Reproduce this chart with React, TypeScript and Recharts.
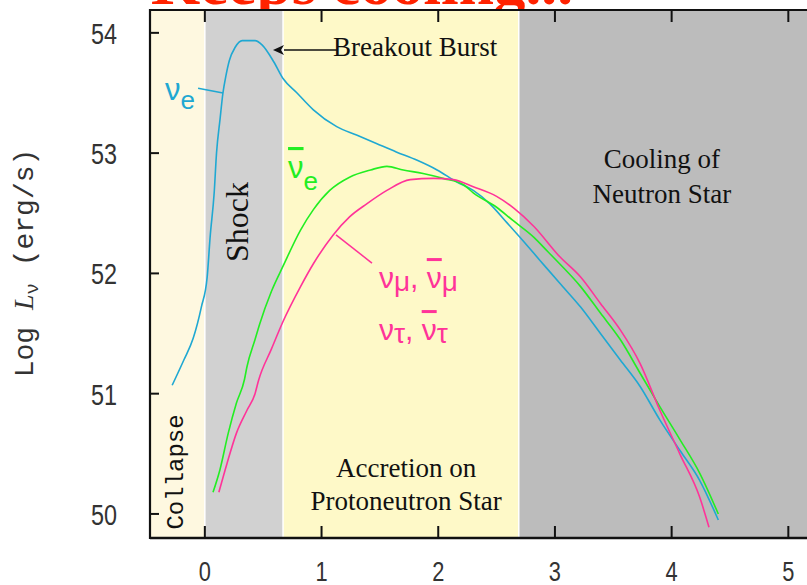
import React from 'react';
import {
  LineChart,
  Line,
  XAxis,
  YAxis,
  ReferenceArea,
  ReferenceLine,
  ReferenceDot,
  Label,
} from 'recharts';

// ---- axes ----
const xTicks = [0, 1, 2, 3, 4, 5];
const yTicks = [50, 51, 52, 53, 54];
const xDomain: [number, number] = [-0.47, 5.16];
const yDomain: [number, number] = [49.8, 54.19];

// ---- phase boundaries (time, s) ----
const phaseNames = ['Collapse', 'Shock', 'Accretion', 'Cooling'];
const phaseStart = [-0.47, 0, 0.67, 2.69];
const phaseEnd = [0, 0.67, 2.69, 5.16];

// ---- nu_e ----
const nueT = [-0.28, -0.18, -0.1, -0.03, 0.02, 0.045, 0.08, 0.1, 0.13, 0.155, 0.18, 0.21, 0.26, 0.32, 0.43, 0.49, 0.59, 0.67, 0.79, 0.93, 1.13, 1.3, 1.47, 1.64, 1.82, 1.99, 2.16, 2.3, 2.44, 2.59, 2.7, 2.87, 3.04, 3.22, 3.39, 3.56, 3.73, 3.9, 4.07, 4.24, 4.4];
const nueL = [51.07, 51.28, 51.46, 51.72, 51.97, 52.3, 52.67, 53.0, 53.28, 53.5, 53.64, 53.77, 53.88, 53.935, 53.935, 53.9, 53.76, 53.62, 53.5, 53.36, 53.22, 53.15, 53.08, 53.01, 52.94, 52.86, 52.76, 52.69, 52.58, 52.42, 52.3, 52.11, 51.92, 51.72, 51.5, 51.28, 51.06, 50.78, 50.53, 50.28, 49.95];

// ---- anti nu_e ----
const nuebT = [0.07, 0.13, 0.2, 0.27, 0.34, 0.36, 0.43, 0.47, 0.57, 0.67, 0.82, 0.93, 1.07, 1.24, 1.42, 1.56, 1.7, 1.87, 2.04, 2.22, 2.3, 2.5, 2.64, 2.82, 2.94, 3.04, 3.22, 3.39, 3.56, 3.73, 3.9, 4.07, 4.24, 4.4];
const nuebL = [50.18, 50.37, 50.67, 50.92, 51.12, 51.22, 51.45, 51.58, 51.85, 52.06, 52.36, 52.53, 52.69, 52.8, 52.86, 52.89, 52.86, 52.83, 52.79, 52.735, 52.67, 52.55, 52.44, 52.3, 52.18, 52.08, 51.89, 51.67, 51.45, 51.17, 50.89, 50.62, 50.34, 50.0];

// ---- nu_mu, nu_tau ----
const numuT = [0.12, 0.19, 0.27, 0.36, 0.43, 0.46, 0.57, 0.67, 0.82, 0.93, 1.1, 1.24, 1.39, 1.56, 1.76, 1.96, 2.13, 2.3, 2.5, 2.65, 2.82, 3.04, 3.22, 3.39, 3.56, 3.73, 3.9, 4.07, 4.24, 4.32];
const numuL = [50.18, 50.42, 50.67, 50.86, 51.0, 51.11, 51.37, 51.6, 51.89, 52.08, 52.32, 52.47, 52.58, 52.69, 52.78, 52.79, 52.78, 52.72, 52.64, 52.54, 52.39, 52.14, 51.97, 51.75, 51.53, 51.25, 50.86, 50.5, 50.14, 49.89];

const toData = (t: number[], l: number[]) => t.map((tv, i) => ({ t: tv, v: l[i] }));
const nueData = toData(nueT, nueL);
const nuebData = toData(nuebT, nuebL);
const numuData = toData(numuT, numuL);

// ---- layout / styles ----
const W = 807;
const H = 585;
const M = { top: 10, right: 0, bottom: 0, left: 0 };
const yAxisW = 150;
const xAxisH = 47;
const plotW = W - M.left - M.right - yAxisW;
const plotH = H - M.top - M.bottom - xAxisH;

const phaseFill = ['#FEF8E0', '#D1D1D1', '#FEF9C8', '#BCBCBC'];
const blue = '#1FA8D2';
const green = '#22EE22';
const pink = '#FF3399';
const tickFont = "'Liberation Sans', 'DejaVu Sans', sans-serif";
const serif = "'Liberation Serif', 'DejaVu Serif', serif";
const sans = "'Liberation Sans', 'DejaVu Sans', sans-serif";
const mono = "'Liberation Mono', 'DejaVu Sans Mono', monospace";
const ink = '#111111';

const BottomTick = (props: any) => {
  const { x, y, payload } = props;
  return (
    <g>
      <text
        transform={`translate(${x} ${y + 43}) scale(0.78 1)`}
        x={0}
        y={0}
        textAnchor="middle"
        fontSize={28}
        fontFamily={tickFont}
        fill="#333"
      >
        {payload.value}
      </text>
    </g>
  );
};

const LeftTick = (props: any) => {
  const { x, y, payload } = props;
  return (
    <g>
      <text
        transform={`translate(${x - 33} ${y + 11}) scale(0.78 1)`}
        x={0}
        y={0}
        textAnchor="end"
        fontSize={30}
        fontFamily={tickFont}
        fill="#333"
      >
        {payload.value}
      </text>
    </g>
  );
};

const YLabel = (props: any) => {
  const vb = props.viewBox || {};
  const cx = vb.x + 33;
  const cy = vb.y + vb.height / 2 - 11;
  return (
    <text
      x={cx}
      y={cy}
      transform={`rotate(-90 ${cx} ${cy})`}
      textAnchor="middle"
      fontSize={28}
      fontFamily={mono}
      fill="#333"
    >
      <tspan>Log </tspan>
      <tspan fontStyle="italic" fontFamily={serif}>L</tspan>
      <tspan fontSize={19} dy={5}>ν</tspan>
      <tspan dy={-5}> (erg/s)</tspan>
    </text>
  );
};

const ArrowShape = (props: any) => {
  const { x1, y1, x2, y2 } = props;
  const ang = Math.atan2(y2 - y1, x2 - x1);
  const L = 11;
  const Wd = 5;
  const bx = x2 - L * Math.cos(ang);
  const by = y2 - L * Math.sin(ang);
  const px = -Math.sin(ang) * Wd;
  const py = Math.cos(ang) * Wd;
  return (
    <g>
      <line x1={x1} y1={y1} x2={bx} y2={by} stroke={ink} strokeWidth={1.5} />
      <polygon
        points={`${x2},${y2} ${bx + px},${by + py} ${bx + 3 * Math.cos(ang)},${by + 3 * Math.sin(ang)} ${bx - px},${by - py}`}
        fill={ink}
      />
    </g>
  );
};

const textShape = (render: (cx: number, cy: number) => React.ReactElement) => (p: any) => render(p.cx, p.cy);

const App = () => {
  return (
    <div style={{ position: 'absolute', left: 0, top: 0, width: W, height: H, background: '#fff' }}>
      <LineChart width={W} height={H} margin={M}>
        {phaseNames.map((n, i) => (
          <ReferenceArea
            key={n}
            xAxisId="b"
            x1={phaseStart[i]}
            x2={phaseEnd[i]}
            y1={yDomain[0]}
            y2={yDomain[1]}
            fill={phaseFill[i]}
            fillOpacity={1}
            stroke="none"
            ifOverflow="visible"
          />
        ))}
        {phaseStart.slice(1).map((v) => (
          <ReferenceLine key={'sep' + v} xAxisId="b" x={v} stroke="#ffffff" strokeWidth={1.5} ifOverflow="visible" />
        ))}

        <XAxis
          xAxisId="b"
          type="number"
          dataKey="t"
          domain={xDomain}
          ticks={xTicks}
          interval={0}
          allowDataOverflow
          height={xAxisH}
          tickLine={false}
          tickSize={0}
          tickMargin={0}
          axisLine={{ stroke: ink, strokeWidth: 2.5 }}
          tick={<BottomTick />}
        />
        <YAxis
          type="number"
          domain={yDomain}
          ticks={yTicks}
          interval={0}
          allowDataOverflow
          width={yAxisW}
          tickLine={false}
          tickSize={0}
          tickMargin={0}
          axisLine={{ stroke: ink, strokeWidth: 2 }}
          tick={<LeftTick />}
        >
          <Label content={<YLabel />} />
        </YAxis>

        {/* leader lines and arrow */}
        <ReferenceLine
          xAxisId="b"
          segment={[{ x: -0.058, y: 53.54 }, { x: 0.156, y: 53.5 }]}
          stroke={blue}
          strokeWidth={1.5}
          ifOverflow="visible"
        />
        <ReferenceLine
          xAxisId="b"
          segment={[{ x: 1.124, y: 52.32 }, { x: 1.432, y: 52.086 }]}
          stroke={pink}
          strokeWidth={1.5}
          ifOverflow="visible"
        />
        <ReferenceLine
          xAxisId="b"
          segment={[{ x: 1.132, y: 53.857 }, { x: 0.584, y: 53.857 }]}
          shape={<ArrowShape />}
          ifOverflow="visible"
        />

        <Line xAxisId="b" data={nueData} dataKey="v" type="monotone" stroke={blue} strokeWidth={1.6} dot={false} isAnimationActive={false} />
        <Line xAxisId="b" data={nuebData} dataKey="v" type="monotone" stroke={green} strokeWidth={1.6} dot={false} isAnimationActive={false} />
        <Line xAxisId="b" data={numuData} dataKey="v" type="monotone" stroke={pink} strokeWidth={1.6} dot={false} isAnimationActive={false} />

        {/* frame (anchored at the top-left corner of the plot) */}
        <ReferenceDot
          xAxisId="b"
          x={xDomain[0]}
          y={yDomain[1]}
          r={0}
          ifOverflow="visible"
          shape={textShape((cx, cy) => (
            <path
              d={`M ${cx + plotW} ${cy} H ${cx} V ${cy + plotH} H ${cx + plotW}`}
              fill="none"
              stroke={ink}
              strokeWidth={2.2}
            />
          ))}
        />
        {/* inward tick marks */}
        {xTicks.map((v) => (
          <ReferenceDot
            key={'bt' + v}
            xAxisId="b"
            x={v}
            y={yDomain[0]}
            r={0}
            ifOverflow="visible"
            shape={textShape((cx, cy) => (
              <line x1={cx} y1={cy} x2={cx} y2={cy - 12} stroke={ink} strokeWidth={2} />
            ))}
          />
        ))}
        {xTicks.map((v) => (
          <ReferenceDot
            key={'tt' + v}
            xAxisId="b"
            x={v}
            y={yDomain[1]}
            r={0}
            ifOverflow="visible"
            shape={textShape((cx, cy) => (
              <line x1={cx} y1={cy} x2={cx} y2={cy + 12} stroke={ink} strokeWidth={2} />
            ))}
          />
        ))}
        {yTicks.map((v) => (
          <ReferenceDot
            key={'lt' + v}
            xAxisId="b"
            x={xDomain[0]}
            y={v}
            r={0}
            ifOverflow="visible"
            shape={textShape((cx, cy) => (
              <line x1={cx} y1={cy} x2={cx + 9} y2={cy} stroke={ink} strokeWidth={2} />
            ))}
          />
        ))}

        {/* phase labels */}
        <ReferenceDot
          xAxisId="b"
          x={-0.186}
          y={50.349}
          r={0}
          shape={textShape((cx, cy) => (
            <text x={cx} y={cy} transform={`rotate(-90 ${cx} ${cy})`} textAnchor="middle" fontSize={24} fontFamily={mono} fill={ink}>
              Collapse
            </text>
          ))}
        />
        <ReferenceDot
          xAxisId="b"
          x={0.37}
          y={52.427}
          r={0}
          shape={textShape((cx, cy) => (
            <text x={cx} y={cy} transform={`rotate(-90 ${cx} ${cy})`} textAnchor="middle" fontSize={32} fontFamily={serif} fill={ink}>
              Shock
            </text>
          ))}
        />
        <ReferenceDot
          xAxisId="b"
          x={1.725}
          y={50.307}
          r={0}
          shape={textShape((cx, cy) => (
            <text x={cx} y={cy} textAnchor="middle" fontSize={27} fontFamily={serif} fill={ink}>
              <tspan x={cx}>Accretion on</tspan>
              <tspan x={cx} dy={33}>Protoneutron Star</tspan>
            </text>
          ))}
        />
        <ReferenceDot
          xAxisId="b"
          x={3.917}
          y={52.876}
          r={0}
          shape={textShape((cx, cy) => (
            <text x={cx} y={cy} textAnchor="middle" fontSize={27} fontFamily={serif} fill={ink}>
              <tspan x={cx}>Cooling of</tspan>
              <tspan x={cx} dy={35}>Neutron Star</tspan>
            </text>
          ))}
        />
        <ReferenceDot
          xAxisId="b"
          x={1.098}
          y={53.808}
          r={0}
          shape={textShape((cx, cy) => (
            <text x={cx} y={cy} textAnchor="start" fontSize={27} fontFamily={serif} fill={ink}>
              Breakout Burst
            </text>
          ))}
        />

        {/* flavour labels */}
        <ReferenceDot
          xAxisId="b"
          x={-0.341}
          y={53.442}
          r={0}
          shape={textShape((cx, cy) => (
            <text x={cx} y={cy} fontSize={31} fontFamily={sans} fill={blue}>
              <tspan>ν</tspan>
              <tspan fontSize={26} dy={9}>e</tspan>
            </text>
          ))}
        />
        <ReferenceDot
          xAxisId="b"
          x={0.713}
          y={52.793}
          r={0}
          shape={textShape((cx, cy) => (
            <text x={cx} y={cy} fontSize={31} fontFamily={sans} fill={green}>
              <tspan style={{ textDecoration: 'overline' }}>ν</tspan>
              <tspan fontSize={26} dy={12}>e</tspan>
            </text>
          ))}
        />
        <ReferenceDot
          xAxisId="b"
          x={1.492}
          y={51.878}
          r={0}
          shape={textShape((cx, cy) => (
            <text x={cx} y={cy} fontSize={30} fontFamily={sans} fill={pink}>
              <tspan>ν</tspan>
              <tspan fontSize={28} dy={3}>μ</tspan>
              <tspan dy={-3}>, </tspan>
              <tspan style={{ textDecoration: 'overline' }}>ν</tspan>
              <tspan fontSize={28} dy={3}>μ</tspan>
              <tspan x={cx} dy={49}>ν</tspan>
              <tspan fontSize={28} dy={3}>τ</tspan>
              <tspan dy={-3}>, </tspan>
              <tspan style={{ textDecoration: 'overline' }}>ν</tspan>
              <tspan fontSize={28} dy={3}>τ</tspan>
            </text>
          ))}
        />
      </LineChart>
      <svg width={W} height={9} style={{ position: 'absolute', left: 0, top: 0, overflow: 'hidden' }}>
        <text x={151} y={4} fontSize={62} fontWeight="bold" fontFamily={serif} fill="#FF2200" textLength={422} lengthAdjust="spacingAndGlyphs">
          Keeps cooling...
        </text>
      </svg>
    </div>
  );
};

export default App;
